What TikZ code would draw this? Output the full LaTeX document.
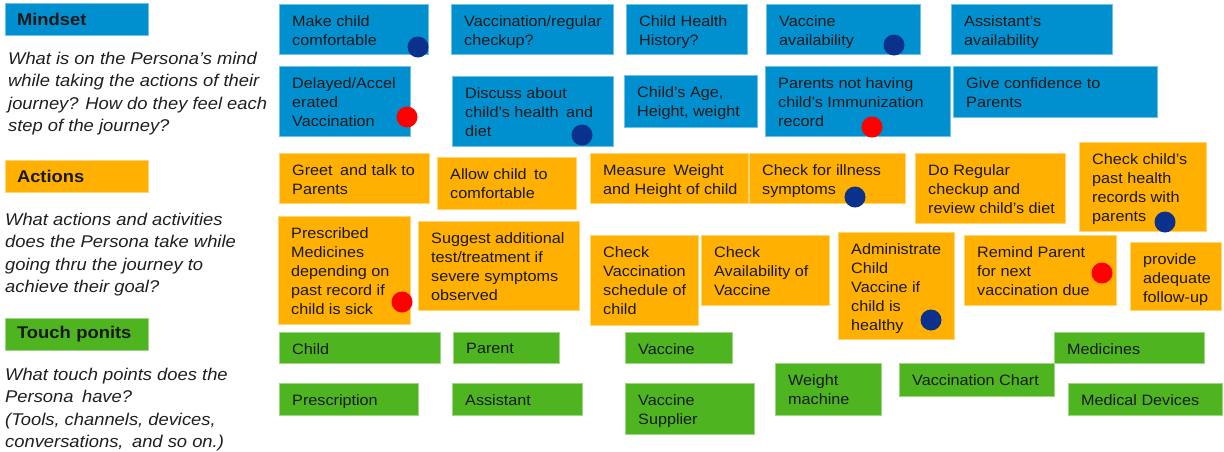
\documentclass[tikz,border=0pt]{standalone}
\usepackage{fontspec}
\setmainfont{Liberation Sans}[FakeStretch=1.08]
\definecolor{mblue}{RGB}{0,144,208}
\definecolor{aorange}{RGB}{255,176,0}
\definecolor{tgreen}{RGB}{78,181,32}
\definecolor{navy}{RGB}{10,50,140}
\definecolor{dotred}{RGB}{255,0,0}
\newcommand\sticky[7]{%
  \node[#6,minimum width=#4pt,minimum height=#5pt] (#1) at ({#2+#4/2},{#3+#5/2}) {};
  \node[txt] (#1t) at ([xshift=13pt,yshift=-11pt]#1.north west) {#7};}
\newcommand\dsp{\hspace{0.5em}}
\tikzset{
  box/.style={rectangle,inner sep=0pt,outer sep=0pt,line width=0.8pt},
  mind/.style={box,fill=mblue,draw=mblue!55!white},
  act/.style={box,fill=aorange,draw=aorange!55!white},
  touch/.style={box,fill=tgreen,draw=tgreen!55!white},
  txt/.style={anchor=north west,inner sep=0pt,align=left,text=black!90,
    font=\fontsize{15}{19}\selectfont},
  head/.style={box,minimum width=143pt,minimum height=32pt,text width=119pt,
    inner xsep=12pt,anchor=north west,align=left,text=black!90,
    font=\fontsize{17}{20}\selectfont\bfseries},
  desc/.style={anchor=north west,inner sep=0pt,align=left,text=black!88,
    font=\fontsize{17}{22.3}\selectfont\itshape},
  dotb/.style={circle,fill=navy,minimum size=21pt,inner sep=0pt},
  dotr/.style={circle,fill=dotred,minimum size=21pt,inner sep=0pt},
}
\begin{document}
\begin{tikzpicture}[x=1pt,y=-1pt]
\fill[white] (0,0) rectangle (1224,451);
\useasboundingbox (0,0) rectangle (1224,451);

% left column
\node[head,fill=mblue,draw=mblue!55!white] (hmind) at (5,3) {Mindset};
\node[desc] (dmind) at (8,52) {What is on the Persona's mind\\while taking the actions of their\\journey? How do they feel each\\step of the journey?};
\node[head,fill=aorange,draw=aorange!55!white] (hact) at (5,160) {Actions};
\node[desc] (dact) at (5,213) {What actions and activities\\does the Persona take while\\going thru the journey to\\achieve their goal?};
\node[head,fill=tgreen,draw=tgreen!55!white] (htouch) at (5,318) {Touch ponits};
\node[desc] (dtouch) at (5,368) {What touch points does the\\Persona\dsp have?\\(Tools, channels, devices,\\conversations,\dsp and so on.)};

% mindset notes
\sticky{m1}{279}{4}{149}{50}{mind}{Make child\\comfortable}
\sticky{m2}{451}{4}{162}{50}{mind}{Vaccination/regular\\checkup?}
\sticky{m3}{626}{4}{121}{50}{mind}{Child Health\\History?}
\sticky{m4}{766}{4}{154}{50}{mind}{Vaccine\\availability}
\sticky{m5}{951}{4}{161}{50}{mind}{Assistant's\\availability}
\sticky{m6}{279}{66}{131}{70}{mind}{Delayed/Accel\\erated\\Vaccination}
\sticky{m7}{452}{76}{161}{70}{mind}{Discuss about\\child's health\dsp and\\diet}
\sticky{m8}{624}{75}{133}{52}{mind}{Child's Age,\\Height, weight}
\sticky{m9}{765}{66}{185}{70}{mind}{Parents not having\\child's Immunization\\record}
\sticky{m10}{953}{66}{204}{51}{mind}{Give confidence to\\Parents}

% action notes
\sticky{a1}{279}{153}{150}{50}{act}{Greet\dsp and talk to\\Parents}
\sticky{a2}{437}{157}{139}{52}{act}{Allow child\dsp to\\comfortable}
\sticky{a3}{590}{153}{158}{50}{act}{Measure\dsp Weight\\and Height of child}
\sticky{a4}{749}{153}{156}{50}{act}{Check for illness\\symptoms}
\sticky{a5}{915}{153}{150}{70}{act}{Do Regular\\checkup and\\review child's diet}
\sticky{a6}{1079}{142}{127}{89}{act}{Check child's\\past health\\records with\\parents}
\sticky{a7}{278}{216}{132}{108}{act}{Prescribed\\Medicines\\depending on\\past record if\\child is sick}
\sticky{a8}{418}{221}{161}{89}{act}{Suggest additional\\test/treatment if\\severe symptoms\\observed}
\sticky{a9}{590}{235}{108}{90}{act}{Check\\Vaccination\\schedule of\\child}
\sticky{a10}{701}{235}{128}{70}{act}{Check\\Availability of\\Vaccine}
\sticky{a11}{838}{232}{116}{107}{act}{Administrate\\Child\\Vaccine if\\child is\\healthy}
\sticky{a12}{964}{235}{152}{70}{act}{Remind Parent\\for next\\vaccination due}
\sticky{a13}{1130}{242}{91}{68}{act}{provide\\adequate\\follow-up}

% touch points
\sticky{t1}{279}{332}{161}{31}{touch}{Child}
\sticky{t2}{453}{332}{106}{31}{touch}{Parent}
\sticky{t3}{625}{332}{107}{31}{touch}{Vaccine}
\sticky{t4}{279}{383}{139}{32}{touch}{Prescription}
\sticky{t5}{452}{383}{130}{32}{touch}{Assistant}
\sticky{t6}{625}{383}{129}{51}{touch}{Vaccine\\Supplier}
\sticky{t7}{775}{363}{106}{52}{touch}{Weight\\machine}
\sticky{t8}{899}{363}{155}{33}{touch}{Vaccination Chart}
\sticky{t9}{1054}{332}{150}{31}{touch}{Medicines}
\sticky{t10}{1068}{383}{154}{32}{touch}{Medical Devices}

% dots
\node[dotb] (d1) at (418,47) {};
\node[dotr] (d2) at (407,117) {};
\node[dotb] (d3) at (582,135) {};
\node[dotb] (d4) at (894,45) {};
\node[dotr] (d5) at (872,127) {};
\node[dotb] (d6) at (855,197) {};
\node[dotb] (d7) at (1165,222) {};
\node[dotr] (d8) at (402,302) {};
\node[dotb] (d9) at (931,320) {};
\node[dotr] (d10) at (1102,273) {};
\end{tikzpicture}
\end{document}
